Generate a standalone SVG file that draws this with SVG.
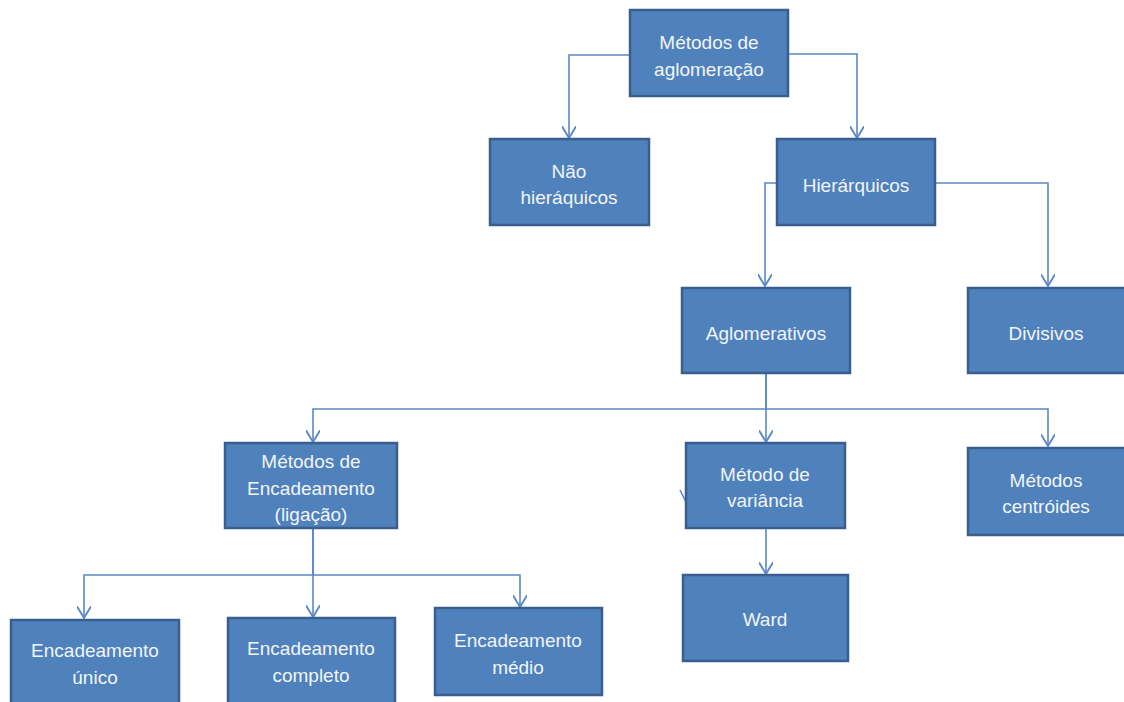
<svg xmlns="http://www.w3.org/2000/svg" width="1124" height="702" viewBox="0 0 1124 702">
<style>
.box{fill:#4F81BD;stroke:#3A5F8E;stroke-width:2.5}
.t{font-family:"Liberation Sans",Arial,sans-serif;font-size:19px;fill:#F2F5FA;text-anchor:middle}
.c{fill:none;stroke:#5A88C6;stroke-width:1.6}
</style>
<defs>
<marker id="ah" markerUnits="userSpaceOnUse" markerWidth="14" markerHeight="14" refX="10" refY="6" orient="auto" viewBox="0 0 12 12">
<path d="M0,0 L10,6 L0,12" fill="none" stroke="#5A88C6" stroke-width="1.6"/>
</marker>
</defs>
<rect width="1124" height="702" fill="#FFFFFF"/>
<g id="connectors">
<path class="c" d="M630,55 H569 V138" marker-end="url(#ah)"/>
<path class="c" d="M788,54 H857 V138" marker-end="url(#ah)"/>
<path class="c" d="M777,183 H765 V286" marker-end="url(#ah)"/>
<path class="c" d="M935,183 H1048 V286" marker-end="url(#ah)"/>
<path class="c" d="M766,373 V409 H313 V442" marker-end="url(#ah)"/>
<path class="c" d="M766,373 V442" marker-end="url(#ah)"/>
<path class="c" d="M766,409 H1048 V446" marker-end="url(#ah)"/>
<path class="c" d="M313,528 V575 H84 V618" marker-end="url(#ah)"/>
<path class="c" d="M313,528 V617" marker-end="url(#ah)"/>
<path class="c" d="M313,575 H520 V607" marker-end="url(#ah)"/>
<path class="c" d="M766,528 V574" marker-end="url(#ah)"/>
<path class="c" d="M680,490 L685,500 L690,490"/>
</g>
<g id="n_aglomeracao"><rect class="box" x="630" y="10" width="158" height="86"/><text class="t" x="709" y="49">Métodos de</text><text class="t" x="709" y="76">aglomeração</text></g>
<g id="n_naohier"><rect class="box" x="490" y="139" width="159" height="86"/><text class="t" x="569" y="178">Não</text><text class="t" x="569" y="204">hieráquicos</text></g>
<g id="n_hier"><rect class="box" x="777" y="139" width="158" height="86"/><text class="t" x="856" y="192">Hierárquicos</text></g>
<g id="n_aglomerativos"><rect class="box" x="682" y="288" width="168" height="85"/><text class="t" x="766" y="340">Aglomerativos</text></g>
<g id="n_divisivos"><rect class="box" x="968" y="288" width="160" height="85"/><text class="t" x="1046" y="340">Divisivos</text></g>
<g id="n_encadeamento"><rect class="box" x="225" y="443" width="172" height="85"/><text class="t" x="311" y="468">Métodos de</text><text class="t" x="311" y="495">Encadeamento</text><text class="t" x="311" y="521">(ligação)</text></g>
<g id="n_variancia"><rect class="box" x="686" y="443" width="159" height="85"/><text class="t" x="765" y="481">Método de</text><text class="t" x="765" y="507">variância</text></g>
<g id="n_centroides"><rect class="box" x="968" y="448" width="160" height="87"/><text class="t" x="1046" y="487">Métodos</text><text class="t" x="1046" y="513">centróides</text></g>
<g id="n_ward"><rect class="box" x="683" y="575" width="165" height="86"/><text class="t" x="765" y="626">Ward</text></g>
<g id="n_unico"><rect class="box" x="11" y="620" width="168" height="90"/><text class="t" x="95" y="657">Encadeamento</text><text class="t" x="95" y="684">único</text></g>
<g id="n_completo"><rect class="box" x="228" y="618" width="167" height="90"/><text class="t" x="311" y="655">Encadeamento</text><text class="t" x="311" y="682">completo</text></g>
<g id="n_medio"><rect class="box" x="435" y="608" width="167" height="87"/><text class="t" x="518" y="647">Encadeamento</text><text class="t" x="518" y="674">médio</text></g>
</svg>
